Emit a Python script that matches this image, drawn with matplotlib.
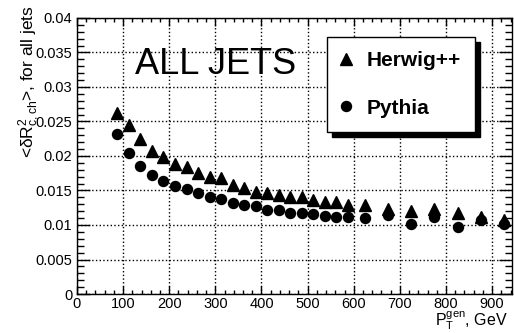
import matplotlib
matplotlib.use('Agg')
import matplotlib.pyplot as plt
from matplotlib.ticker import MultipleLocator, FuncFormatter

plt.rcParams['font.family'] = ['Liberation Sans', 'DejaVu Sans']
plt.rcParams['mathtext.fontset'] = 'custom'
plt.rcParams['mathtext.rm'] = 'Liberation Sans'
plt.rcParams['mathtext.it'] = 'Liberation Sans'
plt.rcParams['mathtext.bf'] = 'Liberation Sans:bold'

# pT bin centres (GeV)
pt = [87.5, 112.5, 137.5, 162.5, 187.5, 212.5, 237.5, 262.5, 287.5, 312.5,
      337.5, 362.5, 387.5, 412.5, 437.5, 462.5, 487.5, 512.5, 537.5, 562.5,
      587.5, 625, 675, 725, 775, 825, 875, 925]

herwig = [0.0262, 0.0245, 0.0224, 0.0207, 0.0199, 0.0188, 0.0184, 0.0175,
          0.0170, 0.0168, 0.0158, 0.0153, 0.0148, 0.0146, 0.0143, 0.0141,
          0.0140, 0.0136, 0.0134, 0.0133, 0.0129, 0.0129, 0.0123, 0.0120,
          0.0123, 0.0117, 0.0112, 0.0107]

pythia = [0.0232, 0.0204, 0.0185, 0.0172, 0.0164, 0.0157, 0.0152, 0.0147,
          0.0141, 0.0137, 0.0132, 0.0129, 0.0127, 0.0122, 0.0122, 0.0118,
          0.0117, 0.0116, 0.0113, 0.0112, 0.0112, 0.0110, 0.0114, 0.0102,
          0.0112, 0.0097, 0.0107, 0.0101]

fig = plt.figure(figsize=(5.14, 3.33), dpi=100)
ax = fig.add_axes([0.1498, 0.1171, 0.8462, 0.8289])

ax.plot(pt, herwig, '^', color='black', ms=8, label='Herwig++', zorder=3)
ax.plot(pt, pythia, 'o', color='black', ms=7.2, label='Pythia', zorder=3)

ax.set_xlim(0, 943)
ax.set_ylim(0, 0.04)

ax.xaxis.set_major_locator(MultipleLocator(100))
ax.xaxis.set_minor_locator(MultipleLocator(20))
ax.yaxis.set_major_locator(MultipleLocator(0.005))
ax.yaxis.set_minor_locator(MultipleLocator(0.001))
ax.yaxis.set_major_formatter(FuncFormatter(lambda v, p: '%g' % round(v, 4)))

ax.grid(True, which='major', color='black', linestyle=':', linewidth=1)
ax.tick_params(axis='both', which='both', direction='in', top=True, right=True,
               labelsize=10.5, width=1)
ax.tick_params(axis='x', which='major', length=5.8, pad=2)
ax.tick_params(axis='x', which='minor', length=2.9)
ax.tick_params(axis='y', which='major', length=9.5, pad=3.5)
ax.tick_params(axis='y', which='minor', length=4.7)
for s in ax.spines.values():
    s.set_linewidth(1)

ax.text(0.133, 0.83, 'ALL JETS', transform=ax.transAxes, fontsize=26,
        ha='left', va='center')

# legend with a solid drop shadow
leg = ax.legend(loc='upper left', bbox_to_anchor=(0.575, 0.931),
                prop={'weight': 'bold', 'size': 15}, frameon=True,
                fancybox=False,
                shadow={'ox': 3.6, 'oy': -3.6, 'color': 'black', 'alpha': 1},
                borderpad=0.68, labelspacing=1.36, handlelength=0.45,
                handletextpad=0.75, borderaxespad=0)
frame = leg.get_frame()
frame.set_edgecolor('black')
frame.set_linewidth(1)
frame.set_alpha(1)
leg.set_zorder(5)

fig.text(0.057, 0.985, r'<$\delta$R$^{2}_{c,ch}$>, for all jets',
         rotation=90, ha='center', va='top', fontsize=12.5)

ax.set_xlabel(r'P$_{\mathrm{T}}^{\mathrm{gen}}$, GeV', fontsize=11.5)
ax.xaxis.set_label_coords(0.99, -0.056)
ax.xaxis.label.set_ha('right')
ax.xaxis.label.set_va('top')

fig.savefig('out.png', dpi=100)
